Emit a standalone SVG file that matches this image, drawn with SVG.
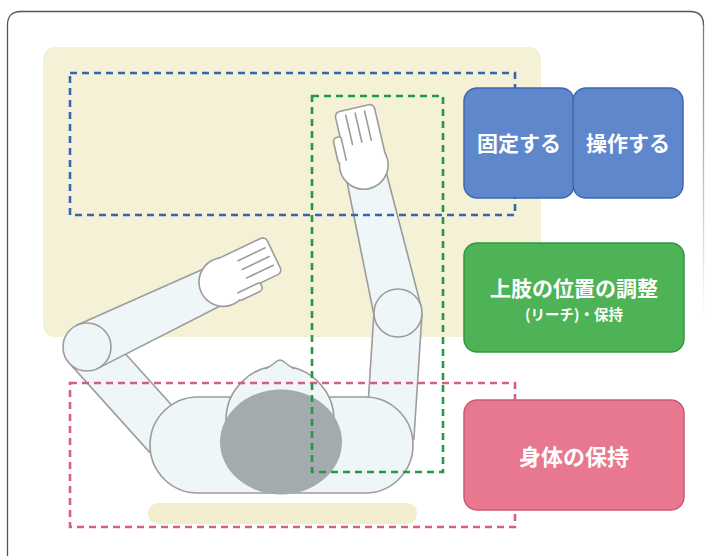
<svg xmlns="http://www.w3.org/2000/svg" xmlns:xlink="http://www.w3.org/1999/xlink" width="712" height="556" viewBox="0 0 712 556">
  <defs>
    <style>
      .frame{fill:none;stroke:#555;stroke-width:1.3}
      .desk{fill:#f5f1d6}
      .limb{fill:#eef6f8;stroke:#9c9c9c;stroke-width:1.6;stroke-linejoin:round}
      .hand-o{fill:#fff;stroke:#9c9c9c;stroke-width:3}
      .hand-f{fill:#fff}
      .line{fill:none;stroke:#9c9c9c;stroke-width:1.5;stroke-linecap:round}
      .hair{fill:#a4abaf}
      .dash{fill:none;stroke-width:2.6;stroke-dasharray:7 5}
      .label{font-family:"Noto Sans CJK JP","Noto Sans",sans-serif;font-weight:700;fill:#fff;text-anchor:middle}
    </style>
    <linearGradient id="fade" gradientUnits="userSpaceOnUse" x1="0" y1="20" x2="0" y2="320">
      <stop offset="0" stop-color="#777"/>
      <stop offset="1" stop-color="#777" stop-opacity="0"/>
    </linearGradient>
    <!-- open hand, origin at palm centre, fingers along +x, thumb on +y side -->
    <g id="hand">
      <g class="hand-o">
        <circle cx="0" cy="0" r="22"/>
        <rect x="0" y="-21" width="53" height="36" rx="4"/>
        <rect x="6" y="8" width="24" height="14" rx="3"/>
      </g>
      <g class="hand-f">
        <circle cx="0" cy="0" r="22"/>
        <rect x="0" y="-21" width="53" height="36" rx="4"/>
        <rect x="6" y="8" width="24" height="14" rx="3"/>
      </g>
      <path class="line" d="M21 -12 H49 M21 -3 H49 M21 6 H49 M8 15 H30"/>
    </g>
  </defs>

  <!-- outer frame -->
  <path class="frame" d="M7.5 556 V25 Q7.5 11.5 21 11.5 H690 Q703.5 11.5 703.5 25"/>
  <path d="M703.5 25 V330" fill="none" stroke="url(#fade)" stroke-width="1.3"/>

  <!-- work surface -->
  <rect id="desk" class="desk" x="43" y="47" width="498" height="290" rx="12"/>
  <rect id="seat" x="148" y="503" width="269" height="21" rx="10.5" fill="#f2edcc"/>

  <!-- figure seen from above -->
  <g id="figure">
    <g id="left-arm" transform="translate(87,347)">
      <rect class="limb" x="0" y="-24" width="120" height="48" transform="rotate(48)"/>
      <g transform="rotate(-25.5)">
        <path class="limb" d="M0 -24 L146 -20 L146 20 L0 24 Z"/>
        <use xlink:href="#hand" href="#hand" transform="translate(151,0) scale(1.07)"/>
      </g>
      <circle class="limb" cx="0" cy="0" r="24"/>
    </g>
    <g id="right-arm" transform="translate(398,313)">
      <rect class="limb" x="0" y="-24" width="125" height="48" transform="rotate(93.7)"/>
      <g transform="rotate(-103)">
        <path class="limb" d="M0 -24 L146 -20 L146 20 L0 24 Z"/>
        <use xlink:href="#hand" href="#hand" transform="translate(152,0) scale(1.07,-1.07)"/>
      </g>
      <circle class="limb" cx="0" cy="0" r="24"/>
    </g>
    <rect id="torso" class="limb" x="150" y="397" width="263" height="96" rx="48"/>
    <g id="head">
      <circle class="limb" cx="280" cy="420" r="54"/>
      <path d="M266 369 C273 366 276 360 280 360 C284 360 287 366 294 369 Z" fill="#eef6f8"/>
      <path class="line" d="M266 368.5 C273 366 276 360 280 360 C284 360 287 366 294 368.5"/>
      <ellipse class="hair" cx="281" cy="442" rx="61" ry="52.5"/>
    </g>
  </g>

  <!-- reach zones -->
  <g id="zones">
    <rect class="dash" x="70" y="73" width="445" height="142" stroke="#3766b0"/>
    <rect class="dash" x="70" y="383" width="445" height="144" stroke="#d4607f"/>
    <rect class="dash" x="312" y="96" width="131" height="376" stroke="#1f9b45"/>
  </g>

  <!-- function labels -->
  <g id="fix">
    <rect x="464" y="88" width="110" height="110" rx="13" fill="#5f87cb" stroke="#3e68b3" stroke-width="1.5"/>
    <text class="label" x="519" y="151" font-size="21">固定する</text>
  </g>
  <g id="operate">
    <rect x="573" y="88" width="110" height="110" rx="13" fill="#5f87cb" stroke="#3e68b3" stroke-width="1.5"/>
    <text class="label" x="628" y="151" font-size="21">操作する</text>
  </g>
  <g id="reach">
    <rect x="464" y="243" width="220" height="109" rx="13" fill="#4db356" stroke="#2e9b3e" stroke-width="1.5"/>
    <text class="label" x="574" y="296" font-size="21">上肢の位置の調整</text>
    <text class="label" x="574" y="320" font-size="14.5">(リーチ)・保持</text>
  </g>
  <g id="posture">
    <rect x="464" y="400" width="220" height="110" rx="13" fill="#e8788f" stroke="#cd5a75" stroke-width="1.5"/>
    <text class="label" x="574" y="465" font-size="22">身体の保持</text>
  </g>
</svg>
